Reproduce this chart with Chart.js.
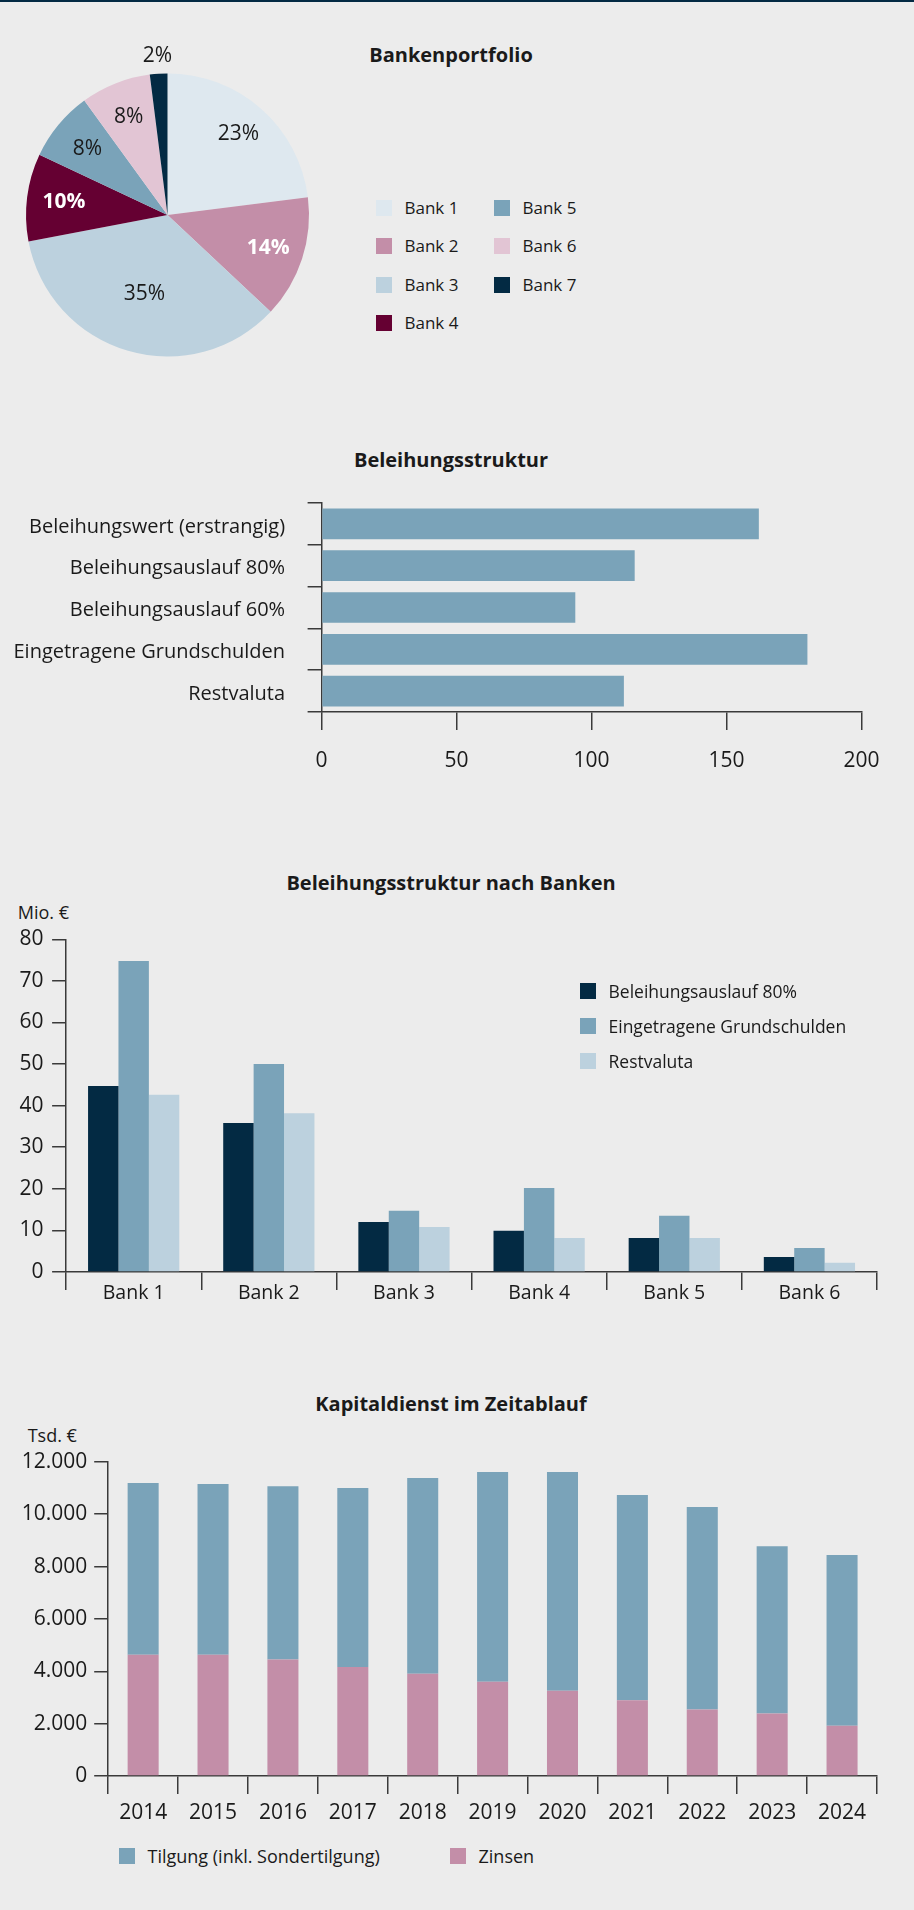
<!DOCTYPE html>
<html lang="de">
<head>
<meta charset="utf-8">
<script src="https://cdn.jsdelivr.net/npm/chart.js@4.4.1/dist/chart.umd.min.js"></script>
<style>
  html, body { margin: 0; padding: 0; background: #ececec; }
  #page { position: relative; width: 914px; height: 1910px; background: #ececec; overflow: hidden;
          font-family: "Open Sans", sans-serif; color: #1a1a1a; }
  #topbar { position: absolute; left: 0; top: 0; width: 914px; height: 2px; background: #032a43; }
  .title { position: absolute; left: 0; width: 902px; text-align: center; font-weight: 700;
           font-size: 20px; line-height: 20px; white-space: nowrap; }
  .unit { position: absolute; font-size: 18px; line-height: 18px; white-space: nowrap; }
  canvas { position: absolute; left: 0; }
  .legend { position: absolute; }
  .li { display: flex; align-items: center; height: 16px; white-space: nowrap; }
  .sw { display: inline-block; width: 16px; height: 16px; flex: none; }
  .lt { margin-left: 12.5px; line-height: 16px; }
  #legPie { left: 376px; top: 200px; display: grid; grid-template-columns: 118px 118px;
            grid-template-rows: repeat(4, 38.3px); grid-auto-flow: column; font-size: 17px; }
  #legBanks { left: 580px; top: 983.3px; display: flex; flex-direction: column; gap: 19px; font-size: 17.5px; }
  #legKd { left: 0; top: 1848.3px; width: 914px; height: 16px; font-size: 18px; }
  #legKd .li { position: absolute; top: 0; }
</style>
</head>
<body>
<div id="page">
  <div id="topbar"></div>

  <div class="title" style="top:44.9px">Bankenportfolio</div>
  <canvas id="pie" width="340" height="340" style="top:40px;width:340px;height:340px"></canvas>
  <div id="legPie" class="legend"></div>

  <div class="title" style="top:449.9px">Beleihungsstruktur</div>
  <canvas id="struct" width="914" height="320" style="top:480px;width:914px;height:320px"></canvas>

  <div class="title" style="top:873.1px">Beleihungsstruktur nach Banken</div>
  <div class="unit" style="left:17.7px;top:903px">Mio. €</div>
  <canvas id="banks" width="914" height="410" style="top:920px;width:914px;height:410px"></canvas>
  <div id="legBanks" class="legend"></div>

  <div class="title" style="top:1393.9px">Kapitaldienst im Zeitablauf</div>
  <div class="unit" style="left:27.7px;top:1426.4px">Tsd. €</div>
  <canvas id="kd" width="914" height="400" style="top:1440px;width:914px;height:400px"></canvas>
  <div id="legKd" class="legend"></div>
</div>

<script>
// ---------------- DATA ----------------
const pieLabels = ['Bank 1', 'Bank 2', 'Bank 3', 'Bank 4', 'Bank 5', 'Bank 6', 'Bank 7'];
const pieShares = [23, 14, 35, 10, 8, 8, 2];

const structureCategories = ['Beleihungswert (erstrangig)', 'Beleihungsauslauf 80%', 'Beleihungsauslauf 60%', 'Eingetragene Grundschulden', 'Restvaluta'];
const structureValues = [162, 116, 94, 180, 112];
const structureTickValues = [0, 50, 100, 150, 200];
const structureTickLabels = ['0', '50', '100', '150', '200'];

const bankCategories = ['Bank 1', 'Bank 2', 'Bank 3', 'Bank 4', 'Bank 5', 'Bank 6'];
const bankSeriesNames = ['Beleihungsauslauf 80%', 'Eingetragene Grundschulden', 'Restvaluta'];
const auslauf80 = [44.7, 35.8, 12.0, 9.9, 8.2, 3.6];
const grundschulden = [74.8, 50.0, 14.7, 20.2, 13.5, 5.8];
const restvaluta = [42.6, 38.2, 10.8, 8.2, 8.2, 2.2];
const bankTickValues = [0, 10, 20, 30, 40, 50, 60, 70, 80];
const bankTickLabels = ['0', '10', '20', '30', '40', '50', '60', '70', '80'];

const years = ['2014', '2015', '2016', '2017', '2018', '2019', '2020', '2021', '2022', '2023', '2024'];
const kdSeriesNames = ['Tilgung (inkl. Sondertilgung)', 'Zinsen'];
const tilgung = [6560, 6520, 6620, 6830, 7470, 8010, 8350, 7830, 7730, 6390, 6520];
const zinsen = [4630, 4630, 4450, 4170, 3910, 3600, 3260, 2900, 2540, 2390, 1920];
const kdTickValues = [0, 2000, 4000, 6000, 8000, 10000, 12000];
const kdTickLabels = ['0', '2.000', '4.000', '6.000', '8.000', '10.000', '12.000'];

// ---------------- STYLE ----------------
const C = {
  navy: '#032a43', blue: '#7aa3b9', light: '#bcd1de', pink: '#c38ea8',
  maroon: '#650032', lightpink: '#e2c5d4', palest: '#dee8ef',
  text: '#1a1a1a', axis: '#3a3a3a'
};
const FAMILY = '"Open Sans", sans-serif';
const pieColors = [C.palest, C.pink, C.light, C.maroon, C.blue, C.lightpink, C.navy];
const pieLabelStyle = {
  radiusFactors: [0.758, 0.749, 0.585, 0.738, 0.734, 0.744, 1.128],
  colors: [C.text, '#ffffff', C.text, '#ffffff', C.text, C.text, C.text],
  bold: [false, true, false, true, false, false, false]
};

Chart.defaults.font.family = FAMILY;
Chart.defaults.color = C.text;

function axisGrid(tickLength, offset) {
  return { drawOnChartArea: false, drawTicks: true, tickLength: tickLength, color: C.axis, lineWidth: 1.5, offset: offset };
}
const axisBorder = { display: true, color: C.axis, width: 1.5 };
const noPlugins = { legend: { display: false }, tooltip: { enabled: false } };

function labelFrom(values, labels) {
  return function (v) { const i = values.indexOf(v); return i >= 0 ? labels[i] : ''; };
}
// pin an axis' thickness and drop its label overflow padding so the plot area is exact
function fixWidth(w) { return function (s) { s.width = w; s.paddingTop = 0; s.paddingBottom = 0; }; }
function fixHeight(h) { return function (s) { s.height = h; s.paddingLeft = 0; s.paddingRight = 0; }; }

// ---------------- PIE ----------------
const pieLabelPlugin = {
  id: 'pieLabels',
  afterDatasetsDraw(chart, args, opts) {
    const ctx = chart.ctx;
    const meta = chart.getDatasetMeta(0);
    const data = chart.data.datasets[0].data;
    meta.data.forEach((arc, i) => {
      const p = arc.getProps(['x', 'y', 'startAngle', 'endAngle', 'outerRadius'], true);
      const mid = (p.startAngle + p.endAngle) / 2;
      const r = p.outerRadius * opts.radiusFactors[i];
      ctx.save();
      ctx.font = (opts.bold[i] ? '700 ' : '400 ') + '21px ' + FAMILY;
      ctx.fillStyle = opts.colors[i];
      ctx.textAlign = 'center';
      ctx.textBaseline = 'middle';
      ctx.fillText(data[i] + '%', p.x + Math.cos(mid) * r, p.y + Math.sin(mid) * r);
      ctx.restore();
    });
  }
};

new Chart(document.getElementById('pie'), {
  type: 'pie',
  data: { labels: pieLabels, datasets: [{ data: pieShares, backgroundColor: pieColors, borderWidth: 0 }] },
  options: {
    responsive: false, animation: false, devicePixelRatio: 1,
    layout: { padding: { left: 26, right: 31, top: 33.3, bottom: 23.4 } },
    plugins: { legend: { display: false }, tooltip: { enabled: false }, pieLabels: pieLabelStyle }
  },
  plugins: [pieLabelPlugin]
});

// ---------------- STRUCTURE (horizontal) ----------------
new Chart(document.getElementById('struct'), {
  type: 'bar',
  data: { labels: structureCategories, datasets: [{ data: structureValues, backgroundColor: C.blue, borderWidth: 0, barPercentage: 0.735, categoryPercentage: 1 }] },
  options: {
    indexAxis: 'y', responsive: false, animation: false, devicePixelRatio: 1,
    layout: { padding: { top: 23, right: 52.6, left: 0, bottom: 0 } },
    scales: {
      x: {
        type: 'linear', min: 0, max: 200,
        ticks: { stepSize: 50, padding: 18, color: C.text, font: { size: 21 }, callback: labelFrom(structureTickValues, structureTickLabels) },
        grid: axisGrid(18, false), border: axisBorder,
        afterFit: fixHeight(88)
      },
      y: {
        ticks: { padding: 22.5, color: C.text, font: { size: 20 }, labelOffset: 3 },
        grid: axisGrid(14, true), border: axisBorder,
        afterFit: fixWidth(321.6)
      }
    },
    plugins: noPlugins
  }
});

// ---------------- BANKS (grouped) ----------------
const bankColors = [C.navy, C.blue, C.light];
const bankSeries = [auslauf80, grundschulden, restvaluta];
new Chart(document.getElementById('banks'), {
  type: 'bar',
  data: {
    labels: bankCategories,
    datasets: bankSeries.map((d, i) => ({ label: bankSeriesNames[i], data: d, backgroundColor: bankColors[i], borderWidth: 0, barPercentage: 1, categoryPercentage: 0.675 }))
  },
  options: {
    responsive: false, animation: false, devicePixelRatio: 1,
    layout: { padding: { top: 19.3, right: 37, left: 0, bottom: 0 } },
    scales: {
      x: {
        ticks: { padding: -8.4, color: C.text, font: { size: 19.5 } },
        grid: axisGrid(18, true), border: axisBorder,
        afterFit: fixHeight(58)
      },
      y: {
        type: 'linear', min: 0, max: 80,
        ticks: { stepSize: 10, padding: 8.5, color: C.text, font: { size: 21 }, callback: labelFrom(bankTickValues, bankTickLabels) },
        grid: axisGrid(14, false), border: axisBorder,
        afterFit: fixWidth(66.1)
      }
    },
    plugins: noPlugins
  }
});

// ---------------- KAPITALDIENST (stacked) ----------------
new Chart(document.getElementById('kd'), {
  type: 'bar',
  data: {
    labels: years,
    datasets: [
      { label: kdSeriesNames[1], data: zinsen, backgroundColor: C.pink, borderWidth: 0, barPercentage: 0.444, categoryPercentage: 1 },
      { label: kdSeriesNames[0], data: tilgung, backgroundColor: C.blue, borderWidth: 0, barPercentage: 0.444, categoryPercentage: 1 }
    ]
  },
  options: {
    responsive: false, animation: false, devicePixelRatio: 1,
    layout: { padding: { top: 21.8, right: 37, left: 0, bottom: 0 } },
    scales: {
      x: {
        stacked: true,
        ticks: { padding: 6.1, color: C.text, font: { size: 21 } },
        grid: axisGrid(18, true), border: axisBorder,
        afterFit: fixHeight(63.9)
      },
      y: {
        stacked: true, type: 'linear', min: 0, max: 12000,
        ticks: { stepSize: 2000, padding: 7, color: C.text, font: { size: 21 }, callback: labelFrom(kdTickValues, kdTickLabels) },
        grid: axisGrid(14, false), border: axisBorder,
        afterFit: fixWidth(108.2)
      }
    },
    plugins: noPlugins
  }
});

// ---------------- HTML LEGENDS (built from the data arrays) ----------------
function legendItem(color, text) {
  const d = document.createElement('div');
  d.className = 'li';
  const sw = document.createElement('span'); sw.className = 'sw'; sw.style.background = color;
  const t = document.createElement('span'); t.className = 'lt'; t.textContent = text;
  d.appendChild(sw); d.appendChild(t);
  return d;
}
const legPie = document.getElementById('legPie');
pieLabels.forEach((l, i) => legPie.appendChild(legendItem(pieColors[i], l)));

const legBanks = document.getElementById('legBanks');
bankSeriesNames.forEach((l, i) => legBanks.appendChild(legendItem(bankColors[i], l)));

const legKd = document.getElementById('legKd');
const kdColors = [C.blue, C.pink];
const kdLegendLeft = [119, 450];
kdSeriesNames.forEach((l, i) => {
  const it = legendItem(kdColors[i], l);
  it.style.left = kdLegendLeft[i] + 'px';
  legKd.appendChild(it);
});
</script>
</body>
</html>
